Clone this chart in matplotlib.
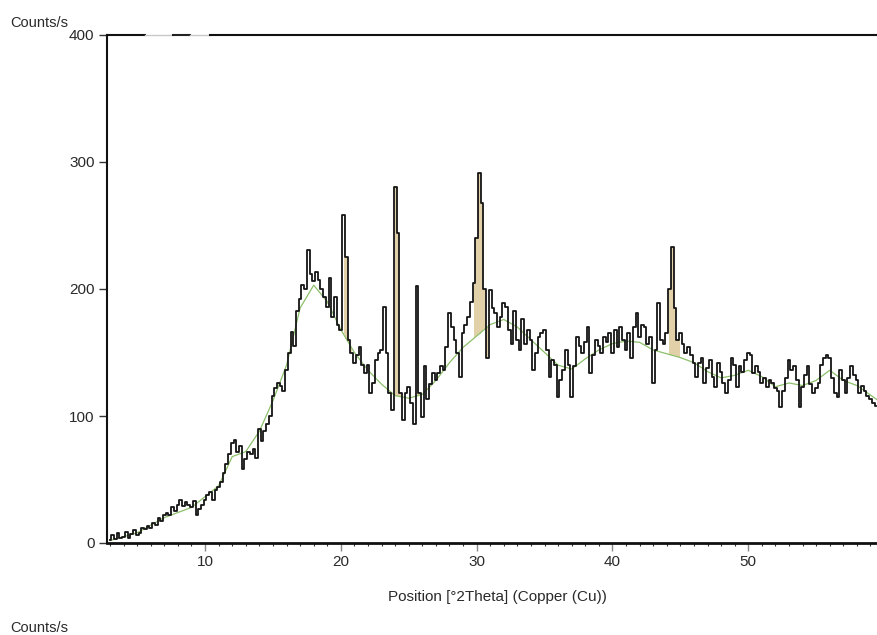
import numpy as np
import matplotlib
matplotlib.use("Agg")
import matplotlib.pyplot as plt
from matplotlib.ticker import MultipleLocator, FixedLocator

# Diffraction scan: counts per step, starting at 3.0 deg 2-theta, 0.2 deg steps
two_theta_start = 3.0
two_theta_step = 0.2
counts = [
    2, 6, 3, 8, 4, 5, 9, 4, 7, 10,            # 3.0
    6, 8, 12, 11, 13, 12, 16, 14, 20, 17,     # 5.0
    22, 24, 22, 28, 25, 30, 34, 29, 32, 30,   # 7.0
    28, 33, 22, 27, 30, 34, 38, 40, 34, 42,   # 9.0
    44, 48, 55, 62, 70, 79, 81, 72, 76, 58,   # 11.0
    66, 72, 70, 74, 67, 90, 80, 88, 94, 100,  # 13.0
    116, 122, 126, 124, 120, 136, 150, 166, 155, 183,  # 15.0
    192, 203, 200, 231, 212, 206, 213, 207, 200, 194,  # 17.0
    186, 209, 178, 194, 172, 168, 258, 225, 160, 150,  # 19.0
    142, 148, 154, 140, 134, 140, 118, 126, 144, 150,  # 21.0
    152, 186, 150, 118, 105, 280, 244, 118, 97, 118,   # 23.0
    123, 110, 94, 202, 118, 99, 139, 113, 125, 134,    # 25.0
    128, 134, 139, 136, 154, 181, 170, 160, 150, 131,  # 27.0
    165, 172, 178, 190, 205, 240, 291, 268, 200, 146,  # 29.0
    199, 185, 181, 170, 178, 189, 186, 168, 157, 183,  # 31.0
    160, 152, 176, 157, 168, 160, 136, 150, 162, 165,  # 33.0
    168, 152, 131, 144, 140, 115, 128, 136, 152, 140,  # 35.0
    115, 139, 162, 155, 150, 158, 170, 134, 148, 160,  # 37.0
    155, 150, 162, 158, 165, 150, 168, 154, 170, 160,  # 39.0
    152, 165, 146, 170, 181, 162, 172, 170, 157, 162,  # 41.0
    126, 152, 189, 160, 157, 165, 200, 233, 185, 160,  # 43.0
    165, 157, 150, 154, 148, 142, 131, 142, 146, 126,  # 45.0
    138, 144, 131, 123, 142, 135, 126, 118, 128, 146,  # 47.0
    140, 123, 139, 135, 144, 150, 148, 134, 139, 135,  # 49.0
    126, 130, 123, 128, 126, 122, 120, 107, 120, 130,  # 51.0
    144, 136, 139, 128, 107, 123, 132, 139, 125, 118,  # 53.0
    122, 126, 140, 146, 148, 146, 130, 118, 115, 136,  # 55.0
    128, 118, 130, 139, 132, 128, 118, 124, 120, 116,  # 57.0
    113, 110, 108,                                     # 59.0
]
two_theta = two_theta_start + two_theta_step * np.arange(len(counts))
counts = np.array(counts, dtype=float)

# Fitted background line
bg_two_theta = [3.0, 5.0, 7.0, 9.0, 11.0, 12.0, 13.0, 14.0, 15.0, 16.0, 17.0,
                18.0, 19.0, 20.0, 21.0, 22.0, 23.0, 24.0, 25.0, 26.0, 27.0,
                28.0, 29.0, 30.0, 31.0, 32.0, 33.0, 34.0, 35.0, 36.0, 37.0,
                38.0, 39.0, 40.0, 41.0, 42.0, 43.0, 44.0, 45.0, 46.0, 47.0,
                48.0, 49.0, 50.0, 51.0, 52.0, 53.0, 54.0, 55.0, 56.0, 57.0,
                58.0, 59.6]
bg_counts = [2, 8, 20, 28, 45, 68, 72, 88, 112, 140, 185,
             203, 190, 168, 150, 136, 125, 116, 114, 117, 128,
             142, 154, 163, 172, 176, 170, 160, 150, 140, 137,
             145, 152, 157, 159, 158, 152, 149, 146, 142, 135,
             130, 132, 136, 131, 123, 126, 124, 128, 136, 128,
             124, 112]

# Identified reflections (2-theta ranges whose area above background is shaded)
peak_ranges = [(20.2, 20.8), (24.0, 24.6), (25.6, 26.0), (29.8, 30.8), (44.2, 45.0)]

x_ticks = [10, 20, 30, 40, 50]
y_ticks = [0, 100, 200, 300, 400]

plt.rcParams['font.family'] = ['Liberation Sans', 'DejaVu Sans']
text_color = '#2a2a2a'

fig = plt.figure(figsize=(8.77, 6.35), dpi=100)
ax = fig.add_axes([107 / 877, 92 / 635, 770 / 877, 508 / 635])

xmin, xmax = 2.78, 59.48
ax.set_xlim(xmin, xmax)
ax.set_ylim(0, 400)

bg_on_grid = np.interp(two_theta, bg_two_theta, bg_counts)
for lo, hi in peak_ranges:
    m = (two_theta >= lo - 1e-6) & (two_theta <= hi + 1e-6)
    ax.fill_between(two_theta[m], bg_on_grid[m], counts[m], step='mid',
                    color='#e2d0a8', linewidth=0, zorder=1)

ax.plot(bg_two_theta, bg_counts, color='#8cbf6a', lw=0.9, zorder=2)
ax.plot(two_theta, counts, color='#151515', lw=1.3, drawstyle='steps-mid', zorder=3)

# Frame
ax.spines['right'].set_visible(False)
ax.spines['top'].set_visible(False)
ax.spines['left'].set_linewidth(1.5)
ax.spines['bottom'].set_linewidth(2.0)
for sp in ('left', 'bottom'):
    ax.spines[sp].set_color('#111111')

top = ax.get_xaxis_transform()
ax.plot([xmin, 5.58], [1, 1], color='#111111', lw=1.5, transform=top, clip_on=False)
ax.plot([5.58, 7.64], [1, 1], color='#c8c8c8', lw=1.0, transform=top, clip_on=False)
ax.plot([7.64, 8.9], [1, 1], color='#222222', lw=1.5, transform=top, clip_on=False)
ax.plot([8.9, 10.37], [1, 1], color='#c8c8c8', lw=1.0, transform=top, clip_on=False)
ax.plot([10.37, xmax], [1, 1], color='#111111', lw=1.5, transform=top, clip_on=False)

ax.xaxis.set_major_locator(FixedLocator(x_ticks))
ax.xaxis.set_minor_locator(MultipleLocator(1))
ax.yaxis.set_major_locator(FixedLocator(y_ticks))
ax.tick_params(axis='x', which='major', direction='out', length=6, width=1.0,
               color='#888888', labelsize=11, labelcolor=text_color, pad=3)
ax.tick_params(axis='x', which='minor', direction='out', length=2.5, width=0.8,
               color='#333333')
ax.tick_params(axis='y', which='major', direction='out', length=6, width=1.0,
               color='#333333', labelsize=11, labelcolor=text_color, pad=3)

ax.set_xlabel('Position [°2Theta] (Copper (Cu))', fontsize=11, color=text_color)
ax.xaxis.set_label_coords((497 - 107) / 770, -(590 - 543) / 508)

fig.text(10 / 877, 1 - 23 / 635, 'Counts/s', fontsize=10.5, color=text_color,
         ha='left', va='center')
fig.text(10 / 877, 1 - 628 / 635, 'Counts/s', fontsize=10.5, color=text_color,
         ha='left', va='center')

fig.savefig('out.png', dpi=100)
